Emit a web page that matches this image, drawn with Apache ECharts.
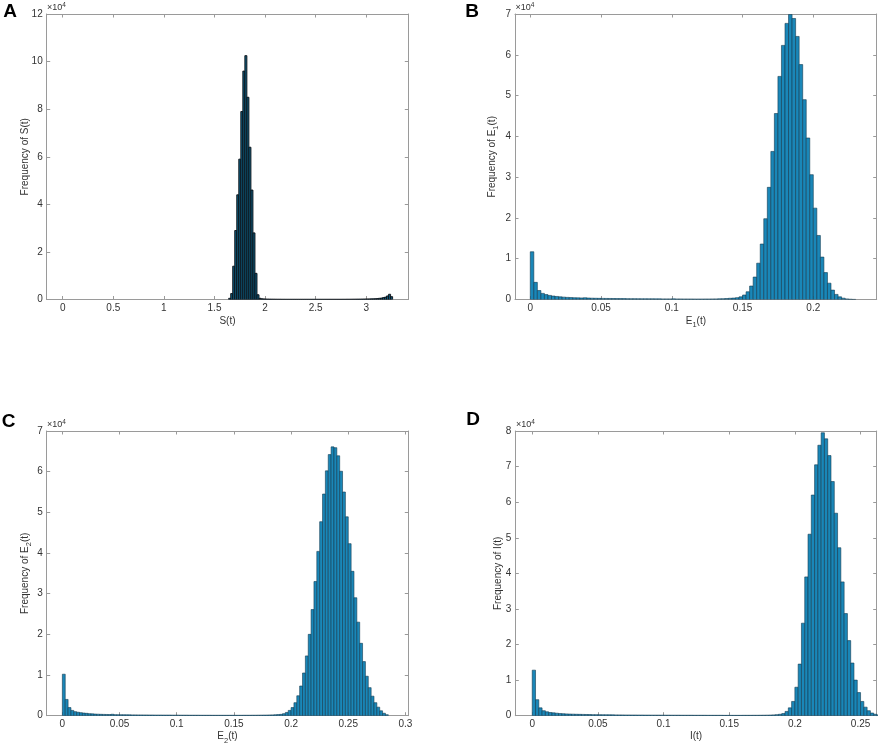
<!DOCTYPE html>
<html><head><meta charset="utf-8">
<script src="https://cdn.jsdelivr.net/npm/echarts@6/dist/echarts.min.js"></script>
<style>html,body{margin:0;padding:0;background:#fff}#c{width:879px;height:748px}</style>
</head><body><div id="c"></div>
<script>
// ---------- data (histogram bin counts) ----------
// Panel A: S(t)
const sBinStart = 1.64, sBinWidth = 0.02;
const sCounts = [
  500, 2500, 14000, 29000, 44000, 59000, 79000, 96000, 102500, 85000,
  64000, 46000, 28000, 11000, 2000, 500,
  300, 250, 200, 180, 160, 150, 140, 130, 120, 120,
  110, 110, 100, 100, 100, 100, 100, 100, 100, 100,
  100, 100, 100, 100, 100, 100, 100, 100, 100, 100,
  100, 100, 100, 100, 100, 100, 100, 100, 100, 100,
  110, 110, 120, 120, 130, 140, 150, 160, 170, 180,
  200, 220, 240, 260, 280, 300, 350,
  400, 500, 600, 800, 1000, 1500, 2200, 1200
];
// Panel B: E1(t)
const e1BinStart = 0, e1BinWidth = 0.0025;
const e1Counts = [
  11700, 4200, 2200, 1500, 1200, 1000, 850, 750, 650, 580,
  520, 470, 430, 400, 380, 420, 360, 320, 300, 280,
  270, 260, 250, 240, 230, 220, 220, 210, 200, 200,
  190, 180, 180, 170, 170, 160, 160, 150, 150, 150,
  160, 140, 140, 130, 130, 130, 120, 120, 120, 130,
  130, 140, 150, 170, 200, 240, 300, 350, 450, 650,
  1100, 1900, 3300, 5500, 8900, 13600, 19800, 27500, 36300, 45600,
  54700, 62300, 67700, 69900, 68900, 64500, 57600, 49000, 39600, 30600,
  22400, 15700, 10400, 6600, 4000, 2300, 1250, 650, 320, 150,
  70, 30
];
// Panel C: E2(t)
const e2BinStart = 0, e2BinWidth = 0.0025;
const e2Counts = [
  10200, 4000, 2000, 1300, 1000, 850, 750, 650, 580, 500,
  450, 400, 370, 340, 320, 300, 280, 350, 260, 250,
  240, 230, 220, 210, 200, 200, 190, 190, 180, 180,
  170, 170, 160, 160, 160, 150, 150, 150, 140, 140,
  140, 130, 130, 130, 120, 120, 120, 120, 110, 110,
  110, 110, 100, 100, 100, 100, 100, 100, 100, 100,
  100, 100, 100, 110, 110, 110, 120, 120, 130, 140,
  150, 160, 180, 200, 230, 270, 330, 500, 800, 1300,
  2000, 3200, 4900, 7300, 10500, 14700, 20000, 26100, 33000, 40400,
  47700, 54500, 60200, 64200, 66100, 65900, 63900, 60100, 55000, 48900,
  42300, 35500, 29000, 23000, 17800, 13300, 9700, 6900, 4800, 3200,
  2100, 1200, 600, 250
];
// Panel D: I(t)
const iBinStart = 0, iBinWidth = 0.0025;
const iCounts = [
  12800, 4500, 2200, 1400, 1100, 900, 800, 700, 600, 550,
  500, 460, 430, 400, 380, 360, 340, 320, 300, 290,
  280, 270, 260, 250, 240, 230, 220, 210, 200, 200,
  190, 190, 180, 180, 170, 170, 160, 160, 160, 150,
  150, 150, 140, 140, 140, 130, 130, 130, 130, 120,
  120, 120, 120, 110, 110, 110, 110, 110, 100, 100,
  100, 100, 100, 100, 110, 110, 110, 120, 120, 130,
  140, 160, 180, 230, 300, 400, 600, 1200, 2200, 4000,
  8000, 14500, 26000, 39000, 51000, 62000, 70500, 76000, 79500, 77800,
  73100, 65800, 56900, 47200, 37600, 28700, 21100, 14800, 10000, 6500,
  4000, 2400, 1400, 750, 400, 200
];
// tick labels
const xTicksA = [0, 0.5, 1, 1.5, 2, 2.5, 3];
const xTicksB = [0, 0.05, 0.1, 0.15, 0.2];
const xTicksC = [0, 0.05, 0.1, 0.15, 0.2, 0.25, 0.3];
const xTicksD = [0, 0.05, 0.1, 0.15, 0.2, 0.25];

// ---------- chart ----------
const FONT = '"Liberation Sans", Arial, Helvetica, sans-serif';
const TXT = '#333333';
const LINE = '#9a9a9a';

function bins(start, w, counts) {
  return counts.map((c, i) => [start + i * w, start + (i + 1) * w, c]);
}
function renderHist(fill, stroke, lw) {
  return function (params, api) {
    const a = api.coord([api.value(0), api.value(2)]);
    const b = api.coord([api.value(1), 0]);
    return {
      type: 'rect',
      shape: { x: a[0], y: a[1], width: b[0] - a[0], height: b[1] - a[1] },
      style: { fill: fill, stroke: stroke, lineWidth: lw }
    };
  };
}

const panels = [
  { grid: { left: 46.7, top: 14, width: 361.6, height: 285.5 }, xmin: -0.158, xmax: 3.415, ticks: xTicksA,
    ymax: 120000, yint: 20000, xname: 'S(t)', yname: 'Frequency of S(t)', xgap: 13.5, ygap: 13.7,
    data: bins(sBinStart, sBinWidth, sCounts), fill: '#0e5878', stroke: '#0a0f14', lw: 0.9 },
  { grid: { left: 515, top: 14, width: 361.7, height: 285.5 }, xmin: -0.0108, xmax: 0.2448, ticks: xTicksB,
    ymax: 70000, yint: 10000, xname: 'E{sub|1}(t)', yname: 'Frequency of E{sub|1}(t)', xgap: 13.5, ygap: 14.7,
    data: bins(e1BinStart, e1BinWidth, e1Counts), fill: '#1a87b8', stroke: '#133a50', lw: 0.6 },
  { grid: { left: 46.7, top: 431, width: 361.6, height: 284.7 }, xmin: -0.0137, xmax: 0.3025, ticks: xTicksC,
    ymax: 70000, yint: 10000, xname: 'E{sub|2}(t)', yname: 'Frequency of E{sub|2}(t)', xgap: 13, ygap: 13.7,
    data: bins(e2BinStart, e2BinWidth, e2Counts), fill: '#1a87b8', stroke: '#133a50', lw: 0.6 },
  { grid: { left: 515.3, top: 431, width: 361.4, height: 284.7 }, xmin: -0.0129, xmax: 0.2623, ticks: xTicksD,
    ymax: 80000, yint: 10000, xname: 'I(t)', yname: 'Frequency of I(t)', xgap: 13, ygap: 9,
    data: bins(iBinStart, iBinWidth, iCounts), fill: '#1a87b8', stroke: '#133a50', lw: 0.6 }
];

const richSub = { sub: { fontSize: 7.5, lineHeight: 16, verticalAlign: 'bottom', fontFamily: FONT, color: TXT } };
const nameStyle = { fontSize: 10, lineHeight: 16, color: TXT, fontFamily: FONT, rich: richSub };

const grids = [], xAxes = [], yAxes = [], series = [];
panels.forEach((p, g) => {
  grids.push(Object.assign({ outerBoundsMode: 'none', containLabel: false }, p.grid));
  // bottom x
  xAxes.push({
    type: 'value', gridIndex: g, position: 'bottom', min: p.xmin, max: p.xmax,
    axisLine: { show: true, onZero: false, lineStyle: { color: LINE, width: 1 } },
    axisTick: { show: true, inside: true, length: 3.5, customValues: p.ticks, lineStyle: { color: LINE } },
    axisLabel: { show: true, customValues: p.ticks, margin: 4, fontSize: 10, color: TXT, fontFamily: FONT,
      formatter: v => String(v) },
    splitLine: { show: false },
    name: p.xname, nameLocation: 'middle', nameGap: p.xgap, nameMoveOverlap: false, nameTextStyle: nameStyle
  });
  // top x (box + ticks)
  xAxes.push({
    type: 'value', gridIndex: g, position: 'top', min: p.xmin, max: p.xmax,
    axisLine: { show: true, onZero: false, lineStyle: { color: LINE, width: 1 } },
    axisTick: { show: true, inside: true, length: 3.5, customValues: p.ticks, lineStyle: { color: LINE } },
    axisLabel: { show: false }, splitLine: { show: false }
  });
  // left y
  yAxes.push({
    type: 'value', gridIndex: g, position: 'left', min: 0, max: p.ymax, interval: p.yint,
    axisLine: { show: true, onZero: false, lineStyle: { color: LINE, width: 1 } },
    axisTick: { show: true, inside: true, length: 3.5, lineStyle: { color: LINE } },
    axisLabel: { show: true, margin: 4, fontSize: 10, color: TXT, fontFamily: FONT, formatter: v => String(v / 10000) },
    splitLine: { show: false },
    name: p.yname, nameLocation: 'middle', nameGap: p.ygap, nameMoveOverlap: false, nameTextStyle: nameStyle
  });
  // right y
  yAxes.push({
    type: 'value', gridIndex: g, position: 'right', min: 0, max: p.ymax, interval: p.yint,
    axisLine: { show: true, onZero: false, lineStyle: { color: LINE, width: 1 } },
    axisTick: { show: true, inside: true, length: 3.5, lineStyle: { color: LINE } },
    axisLabel: { show: false }, splitLine: { show: false }
  });
  series.push({
    type: 'custom', xAxisIndex: 2 * g, yAxisIndex: 2 * g, clip: true,
    encode: { x: [0, 1], y: 2 },
    renderItem: renderHist(p.fill, p.stroke, p.lw),
    data: p.data, silent: true, animation: false
  });
});

function letter(t, x, y) {
  return { type: 'text', x: x, y: y, silent: true,
    style: { text: t, fontSize: 19, fontWeight: 'bold', fontFamily: FONT, fill: '#000', align: 'center', verticalAlign: 'middle' } };
}
function expo(x, y) {
  return { type: 'text', x: x, y: y, silent: true,
    style: { text: '×10{sup|4}', fontSize: 9, lineHeight: 12, fontFamily: FONT, fill: TXT, align: 'left', verticalAlign: 'middle',
      rich: { sup: { fontSize: 6.5, lineHeight: 12, verticalAlign: 'top', fontFamily: FONT, fill: TXT } } } };
}

const chart = echarts.init(document.getElementById('c'), null, { renderer: 'canvas' });
chart.setOption({
  animation: false,
  backgroundColor: '#ffffff',
  grid: grids, xAxis: xAxes, yAxis: yAxes, series: series,
  graphic: [
    letter('A', 10, 12), letter('B', 472, 12), letter('C', 8.5, 422), letter('D', 473, 420),
    expo(47, 8), expo(515.5, 8), expo(47, 424.5), expo(516, 424.5)
  ]
});
</script></body></html>
